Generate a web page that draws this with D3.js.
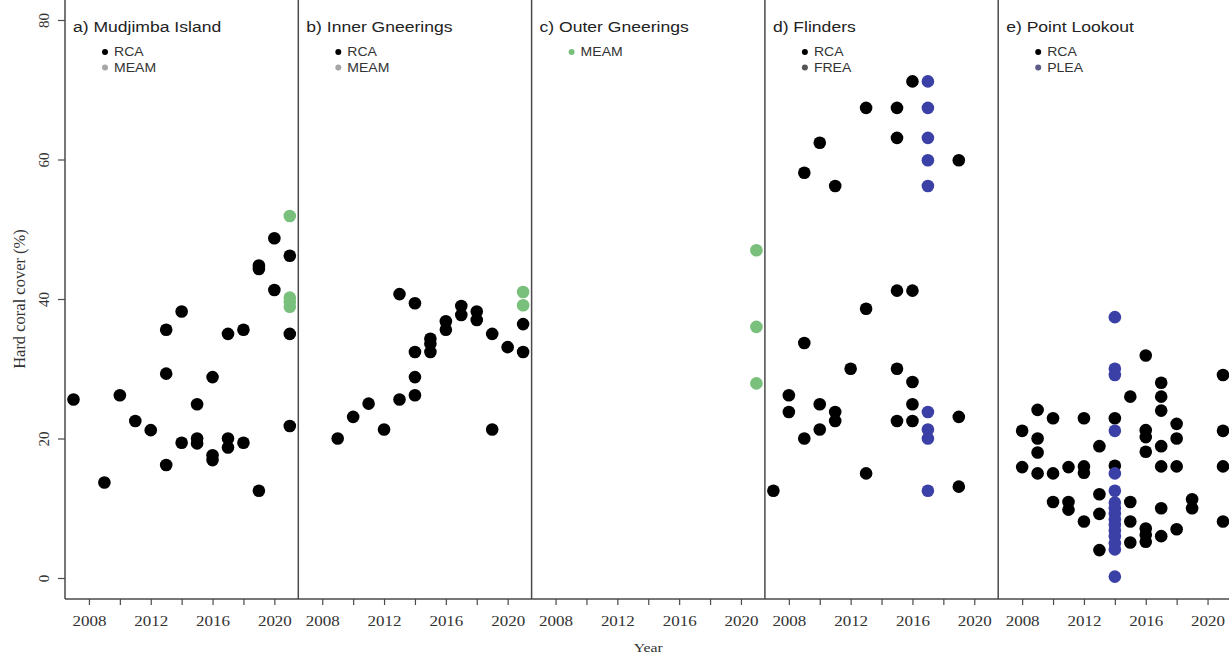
<!DOCTYPE html>
<html>
<head>
<meta charset="utf-8">
<script src="https://cdn.jsdelivr.net/npm/d3@7"></script>
<style>
body { margin: 0; background: #fff; }
svg { display: block; }
</style>
</head>
<body>
<svg id="chart"></svg>
<script>
// hard coral cover by site, one small panel per site

var panelTitles = ["a) Mudjimba Island", "b) Inner Gneerings", "c) Outer Gneerings", "d) Flinders", "e) Point Lookout"];

var legendLabels = [["RCA", "MEAM"], ["RCA", "MEAM"], ["MEAM"], ["RCA", "FREA"], ["RCA", "PLEA"]];

var yTicks = [0, 20, 40, 60, 80];
var xTicks = [2008, 2010, 2012, 2014, 2016, 2018, 2020];
var xLabelled = [2008, 2012, 2016, 2020];

// [year, % cover]
var mudjimbaRCA = [[2007, 25.6], [2009, 13.7], [2010, 26.2], [2011, 22.5], [2012, 21.2],
	[2013, 35.6], [2013, 29.3], [2013, 16.2], [2014, 38.2], [2014, 19.4],
	[2015, 24.9], [2015, 20.0], [2015, 19.3], [2016, 28.8], [2016, 17.6], [2016, 16.9],
	[2017, 35.0], [2017, 20.0], [2017, 18.7], [2018, 35.6], [2018, 19.4],
	[2019, 44.8], [2019, 44.3], [2019, 12.5], [2020, 48.7], [2020, 41.3],
	[2021, 46.2], [2021, 35.0], [2021, 21.8]];
var mudjimbaMEAM = [[2021, 51.9], [2021, 40.2], [2021, 39.6], [2021, 38.9]];

var innerRCA = [[2009, 20.0], [2010, 23.1], [2011, 25.0], [2012, 21.3],
	[2013, 40.7], [2013, 25.6], [2014, 39.4], [2014, 32.4], [2014, 28.8], [2014, 26.2],
	[2015, 34.3], [2015, 33.6], [2015, 32.4], [2016, 36.8], [2016, 35.6],
	[2017, 39.0], [2017, 37.7], [2018, 38.2], [2018, 37.0], [2019, 35.0], [2019, 21.3],
	[2020, 33.1], [2021, 36.4], [2021, 32.4]];
var innerMEAM = [[2021, 41.0], [2021, 39.1]];

var outerMEAM = [[2021, 47.0], [2021, 36.0], [2021, 27.9]];

var flindersRCA = [[2007, 12.5], [2008, 26.2], [2008, 23.8], [2009, 58.1], [2009, 33.7], [2009, 20.0],
	[2010, 62.4], [2010, 24.9], [2010, 21.3], [2011, 56.2], [2011, 23.8], [2011, 22.5],
	[2012, 30.0], [2013, 67.4], [2013, 38.6], [2013, 15.0],
	[2015, 67.4], [2015, 63.1], [2015, 41.2], [2015, 30.0], [2015, 22.5],
	[2016, 71.2], [2016, 41.2], [2016, 28.1], [2016, 24.9], [2016, 22.5],
	[2019, 59.9], [2019, 23.1], [2019, 13.1]];
var flindersFREA = [[2017, 71.2], [2017, 67.4], [2017, 63.1], [2017, 59.9], [2017, 56.2],
	[2017, 23.8], [2017, 21.3], [2017, 20.0], [2017, 12.5]];

var lookoutRCA = [[2008, 21.1], [2008, 15.9], [2009, 24.1], [2009, 20.0], [2009, 18.0], [2009, 15.0],
	[2010, 22.9], [2010, 15.0], [2010, 10.9], [2011, 15.9], [2011, 10.9], [2011, 9.8],
	[2012, 22.9], [2012, 16.0], [2012, 15.1], [2012, 8.1], [2013, 18.9], [2013, 12.0], [2013, 9.2], [2013, 4.0],
	[2014, 22.9], [2014, 16.1], [2015, 26.0], [2015, 10.9], [2015, 8.1], [2015, 5.1],
	[2016, 31.9], [2016, 21.2], [2016, 20.2], [2016, 18.1], [2016, 7.1], [2016, 6.2], [2016, 5.2],
	[2017, 28.0], [2017, 26.0], [2017, 24.0], [2017, 18.9], [2017, 16.0], [2017, 10.0], [2017, 6.0],
	[2018, 22.1], [2018, 20.0], [2018, 16.0], [2018, 7.0], [2019, 11.3], [2019, 10.0],
	[2021, 29.1], [2021, 21.1], [2021, 16.0], [2021, 8.1]];
var lookoutPLEA = [[2014, 37.4], [2014, 30.0], [2014, 29.1], [2014, 21.1], [2014, 15.0], [2014, 12.5],
	[2014, 10.8], [2014, 10.0], [2014, 9.2], [2014, 8.4], [2014, 7.6], [2014, 6.8], [2014, 6.0],
	[2014, 5.0], [2014, 4.1], [2014, 0.2]];

var panelRCA = [mudjimbaRCA, innerRCA, [], flindersRCA, lookoutRCA];
var panelOther = [mudjimbaMEAM, innerMEAM, outerMEAM, flindersFREA, lookoutPLEA];

var black = "#000";
var green = "#79c07c";
var blue = "#3b40a6";
var otherColour = [green, green, green, blue, blue];
// the small legend dots are not the same colours as the points
var legendColour = [["#000", "#a6a6a6"], ["#000", "#a6a6a6"], [green], ["#000", "#555"], ["#000", "#5b5b86"]];

var svgWidth = 1229, svgHeight = 657;
var margin = {left: 65, top: 0, bottom: 599};
var panelW = 233.3;
var dotR = 6.3;
var stretch = "scale(1.17,1)"; // the picture is a bit wider than tall

var svg = d3.select("#chart").attr("width", svgWidth).attr("height", svgHeight);

var xScale = d3.scaleLinear().domain([2006.45, 2021.55]).range([0, panelW]);
var yScale = d3.scaleLinear().domain([0, 80]).range([578, 20]);

var frameCol = "#4a4a4a";
var serif = "Liberation Serif, Times New Roman, serif";
var sans = "Liberation Sans, Arial, sans-serif";

// y axis (only on first panel)
var yax = svg.append("g")
	.attr("transform", "translate(" + margin.left + ",0)")
	.call(d3.axisLeft(yScale).tickValues(yTicks).tickSize(7));
yax.select(".domain").remove();
yax.selectAll(".tick line").attr("stroke", frameCol).attr("stroke-width", 1.2);
yax.selectAll(".tick text")
	.attr("font-family", serif)
	.attr("font-size", "15px")
	.attr("fill", "#333")
	.attr("text-anchor", "middle")
	.attr("x", 0)
	.attr("y", 0)
	.attr("dy", "0.35em")
	.attr("transform", "translate(-21,0) rotate(-90)");

svg.append("text")
	.attr("transform", "translate(25," + yScale(40) + ") rotate(-90)")
	.attr("text-anchor", "middle")
	.attr("font-family", serif)
	.attr("font-size", "16.5px")
	.attr("fill", "#333")
	.text("Hard coral cover (%)");

// bottom line across all panels
svg.append("line")
	.attr("x1", margin.left).attr("x2", margin.left + panelW * 5)
	.attr("y1", margin.bottom).attr("y2", margin.bottom)
	.attr("stroke", frameCol).attr("stroke-width", 1.5);

for (var p = 0; p < 5; p++) {
	var px = margin.left + p * panelW;
	var g = svg.append("g").attr("transform", "translate(" + px + ",0)");

	g.append("line")
		.attr("x1", 0).attr("x2", 0)
		.attr("y1", margin.top).attr("y2", margin.bottom)
		.attr("stroke", frameCol).attr("stroke-width", 1.5);

	var xax = g.append("g")
		.attr("transform", "translate(0," + margin.bottom + ")")
		.call(d3.axisBottom(xScale).tickValues(xTicks).tickSize(6).tickSizeOuter(0)
			.tickFormat(function(d) { return xLabelled.indexOf(d) >= 0 ? d : ""; }));
	xax.select(".domain").remove();
	xax.selectAll(".tick line").attr("stroke", frameCol).attr("stroke-width", 1.2);
	xax.selectAll(".tick text")
		.attr("font-family", serif)
		.attr("font-size", "14.5px")
		.attr("fill", "#333")
		.attr("y", 0)
		.attr("dy", 0)
		.attr("transform", "translate(0,27) " + stretch);

	g.append("text")
		.attr("transform", "translate(8,32) " + stretch)
		.attr("font-family", sans)
		.attr("font-size", "15px")
		.attr("fill", "#222")
		.text(panelTitles[p]);

	var leg = g.selectAll(".leg")
		.data(legendLabels[p])
		.enter().append("g")
		.attr("transform", function(d, i) { return "translate(40," + (52 + i * 15.5) + ")"; });
	leg.append("circle")
		.attr("r", 3)
		.attr("fill", function(d, i) { return legendColour[p][i]; });
	leg.append("text")
		.attr("transform", "translate(9,0) " + stretch)
		.attr("dy", "0.36em")
		.attr("font-family", sans)
		.attr("font-size", "12px")
		.attr("fill", "#333")
		.text(function(d) { return d; });

	g.selectAll(".rca")
		.data(panelRCA[p])
		.enter().append("circle")
		.attr("cx", function(d) { return xScale(d[0]); })
		.attr("cy", function(d) { return yScale(d[1]); })
		.attr("r", dotR)
		.attr("fill", black);

	var col = otherColour[p];
	g.selectAll(".oth")
		.data(panelOther[p])
		.enter().append("circle")
		.attr("cx", function(d) { return xScale(d[0]); })
		.attr("cy", function(d) { return yScale(d[1]); })
		.attr("r", dotR)
		.attr("fill", col);
}

svg.append("text")
	.attr("transform", "translate(" + (margin.left + panelW * 2.5) + ",652) " + stretch)
	.attr("text-anchor", "middle")
	.attr("font-family", serif)
	.attr("font-size", "13.5px")
	.attr("fill", "#333")
	.text("Year");
</script>
</body>
</html>
